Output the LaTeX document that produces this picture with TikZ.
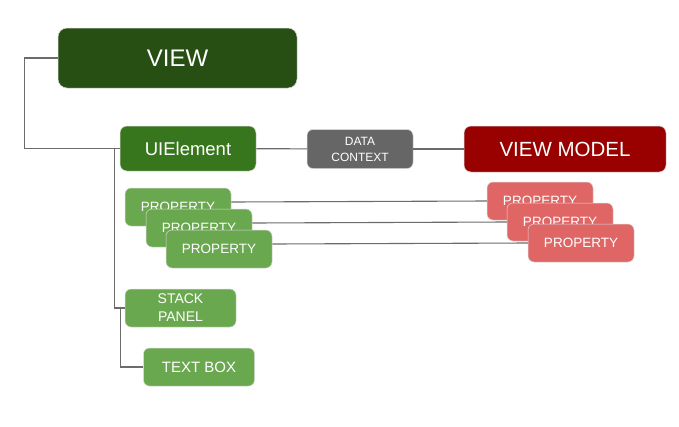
\documentclass[tikz,border=0pt]{standalone}
\usepackage{fontspec}
\setmainfont{Liberation Sans}
\usepackage{tikz}
\usetikzlibrary{shapes,arrows,positioning}
\definecolor{viewgreen}{HTML}{274E13}
\definecolor{uigreen}{HTML}{38761D}
\definecolor{propgreen}{HTML}{6AA84F}
\definecolor{ctxgray}{HTML}{666666}
\definecolor{vmred}{HTML}{990000}
\definecolor{propred}{HTML}{E06666}
\definecolor{linegray}{HTML}{6B6B6B}
\tikzstyle{box} = [rectangle, rounded corners=6pt, inner sep=0pt, text centered, align=center, text=white, draw=white!85!black, line width=0.5pt]
\tikzstyle{view} = [box, rounded corners=9pt, minimum width=239pt, minimum height=60pt, fill=viewgreen, font=\fontsize{24}{28}\selectfont]
\tikzstyle{uielem} = [box, rounded corners=7pt, minimum width=136pt, minimum height=45pt, fill=uigreen, font=\fontsize{18.5}{22}\selectfont]
\tikzstyle{context} = [box, minimum width=106pt, minimum height=39pt, fill=ctxgray, font=\fontsize{12}{16}\selectfont]
\tikzstyle{viewmodel} = [box, rounded corners=7pt, minimum width=202pt, minimum height=46pt, fill=vmred, font=\fontsize{20.5}{24}\selectfont]
\tikzstyle{gprop} = [box, minimum width=106pt, minimum height=38pt, fill=propgreen, font=\fontsize{13.5}{16}\selectfont]
\tikzstyle{rprop} = [gprop, fill=propred]
\tikzstyle{child} = [box, minimum width=111pt, minimum height=38pt, fill=propgreen]
\tikzstyle{link} = [draw=linegray, line width=1.1pt]

\begin{document}
\begin{tikzpicture}[x=1pt, y=-1pt]
	\useasboundingbox (0,0) rectangle (679,426);
	\node (view) [view] at (177.5,58) {VIEW};
	\node (ui) [uielem] at (188,148.5) {UIElement};
	\node (ctx) [context] at (360,149) {DATA\\CONTEXT};
	\node (vm) [viewmodel] at (565,149) {VIEW MODEL};
	\draw [link] (view.west) -- ++(-33,0) |- (ui.west);
	\draw [link] (ui) -- (ctx);
	\draw [link] (ctx) -- (vm);
	% the tree below the ui element
	\node (stack) [child, font=\fontsize{14}{18}\selectfont] at (180.5,308) {STACK\\PANEL};
	\node (textbox) [child, font=\fontsize{15}{18}\selectfont] at (199,367) {TEXT BOX};
	\draw [link] ([xshift=-5pt]ui.west) |- (stack.west);
	\draw [link] ([xshift=-4pt]stack.west) |- (textbox.west);
	% property bindings
	\foreach \i/\gx/\gy/\rx/\ry in {1/178/207/540/201, 2/199/228/560/222, 3/219/249/581/243}{
		\node (p\i) [gprop] at (\gx,\gy) {PROPERTY};
		\node (r\i) [rprop] at (\rx,\ry) {PROPERTY};
		\draw [link] ([yshift=5pt]p\i.east) -- (r\i.west);
	}
\end{tikzpicture}
\end{document}
